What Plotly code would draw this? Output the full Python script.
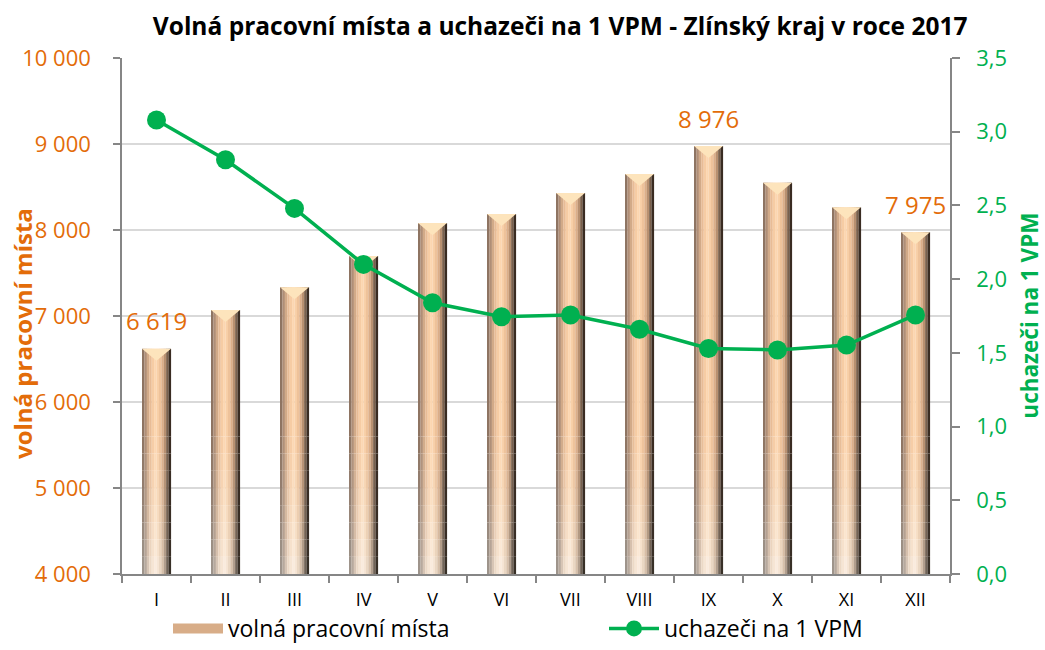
import plotly.graph_objects as go

# ---- data ----
months = ["I", "II", "III", "IV", "V", "VI", "VII", "VIII", "IX", "X", "XI", "XII"]
vacancies = [6619, 7070, 7335, 7698, 8080, 8186, 8430, 8651, 8976, 8550, 8264, 7975]
applicants_per_vpm = [3.08, 2.81, 2.48, 2.10, 1.84, 1.745, 1.757, 1.66, 1.53, 1.52, 1.553, 1.757]
labelled_idx = [0, 8, 11]

left_ticks = [4000, 5000, 6000, 7000, 8000, 9000, 10000]
right_ticks = [0, 0.5, 1.0, 1.5, 2.0, 2.5, 3.0, 3.5]

ORANGE = "#E36C09"
GREEN = "#00B050"
FONT = "Open Sans"

# bar gradient colours (left -> right), top and bottom
top_cols = ["#8e7462", "#b08e76", "#d2aa88", "#e8bc96", "#f6cca4", "#fcd6b0",
            "#f8d0a8", "#eec29a", "#dcae88", "#b89070", "#7a604c", "#3a2c22"]
bot_cols = ["#a09890", "#b8aca2", "#d8c8ba", "#ecdccc", "#f6e8da", "#faeee2",
            "#f6e8da", "#eadac8", "#d6c2ae", "#b0a090", "#706458", "#383028"]


def hex2rgb(h):
    h = h.lstrip("#")
    return [int(h[i:i + 2], 16) for i in (0, 2, 4)]


def mix(c1, c2, t):
    a, b = hex2rgb(c1), hex2rgb(c2)
    return "rgb(%d,%d,%d)" % tuple(round(a[k] + (b[k] - a[k]) * t) for k in range(3))


x = list(range(len(months)))
BW = 0.42
n_strips = len(top_cols)
sw = BW / n_strips
base0 = left_ticks[0]
band_h = 200
n_bands = 8

fig = go.Figure()

# bars built from vertical strips and horizontal bands (gradient look)
for j in range(n_strips):
    off = -BW / 2 + j * sw
    for k in range(n_bands + 1):
        lo = base0 + k * band_h
        if k < n_bands:
            hi = lo + band_h
            heights = [max(0, min(v, hi) - lo) for v in vacancies]
            t = ((k + 0.5) / n_bands) ** 0.8
            col = mix(bot_cols[j], top_cols[j], t)
        else:
            heights = [max(0, v - lo) for v in vacancies]
            col = top_cols[j]
        fig.add_trace(go.Bar(
            x=x, y=heights, base=[lo] * len(x), width=[sw * 1.04] * len(x),
            offset=[off] * len(x), marker=dict(color=col, line=dict(width=0)),
            showlegend=False, hoverinfo="skip", yaxis="y"))

# bevel triangles at bar tops
depth = 140
tx, ty = [], []
for i, v in zip(x, vacancies):
    tx += [i - BW / 2, i + BW / 2, i, i - BW / 2, None]
    ty += [v, v, v - depth, v, None]
fig.add_trace(go.Scatter(x=tx, y=ty, mode="lines", fill="toself",
                         fillcolor="#fde4bc", line=dict(width=0, color="#fde4bc"),
                         showlegend=False, hoverinfo="skip", yaxis="y"))

# legend-only bar entry (drawn as a wide block)
fig.add_trace(go.Scatter(x=[None], y=[None], name="volná pracovní místa",
                         mode="lines", line=dict(color="#d8ad88", width=18),
                         yaxis="y", legend="legend"))

# line
fig.add_trace(go.Scatter(x=x, y=applicants_per_vpm, name="uchazeči na 1 VPM",
                         mode="lines+markers", yaxis="y2", legend="legend2",
                         line=dict(color=GREEN, width=3.5),
                         marker=dict(color=GREEN, size=19)))

for i in labelled_idx:
    fig.add_annotation(x=x[i], y=vacancies[i], xref="x", yref="y",
                       text=f"{vacancies[i]:,}".replace(",", " "),
                       showarrow=False, yshift=28,
                       font=dict(color=ORANGE, size=24, family=FONT))

# axis titles
fig.add_annotation(x=-0.1208, y=0.467, xref="paper", yref="paper",
                   text="<b>volná pracovní místa</b>", textangle=-90, showarrow=False,
                   xanchor="center", yanchor="middle",
                   font=dict(size=24, family=FONT, color=ORANGE))
fig.add_annotation(x=1.095, y=0.5, xref="paper", yref="paper",
                   text="<b>uchazeči na 1 VPM</b>", textangle=-90, showarrow=False,
                   xanchor="center", yanchor="middle",
                   font=dict(size=22.5, family=FONT, color=GREEN))

leg_common = dict(orientation="h", yref="container", y=-0.014, yanchor="bottom",
                  xref="container", xanchor="left",
                  font=dict(size=23, family=FONT, color="black"),
                  itemwidth=50, bgcolor="rgba(0,0,0,0)")

fig.update_layout(
    width=1045, height=650,
    margin=dict(l=122, r=95, t=58, b=76),
    paper_bgcolor="white", plot_bgcolor="white",
    separators=", ",
    barmode="overlay",
    font=dict(family=FONT, color="black"),
    title=dict(text="<b>Volná pracovní místa a uchazeči na 1 VPM - Zlínský kraj v roce 2017</b>",
               x=0.536, xanchor="center", y=0.96, yanchor="middle",
               font=dict(size=24.5, family=FONT, color="black")),
    xaxis=dict(range=[-0.5, 11.5], tickvals=x, ticktext=months, ticks="",
               showline=True, linecolor="#868686", linewidth=1.5,
               showgrid=False, zeroline=False, automargin=False,
               tickfont=dict(size=18, family=FONT, color="black"),
               ticklabelstandoff=9,
               minor=dict(tickvals=[i - 0.5 for i in x] + [11.5], ticks="outside",
                          ticklen=7, tickcolor="#868686", tickwidth=1.5, showgrid=False)),
    yaxis=dict(range=[4000, 10000], tickvals=left_ticks, tickformat=",d",
               ticks="outside", ticklen=7, tickcolor="#868686", tickwidth=1.5,
               showline=True, linecolor="#868686", linewidth=1.5,
               showgrid=True, gridcolor="#d9d9d9", gridwidth=1.5, zeroline=False,
               automargin=False,
               tickfont=dict(size=22, family=FONT, color=ORANGE),
               ticklabelstandoff=18),
    yaxis2=dict(range=[0, 3.5], tickvals=right_ticks, tickformat=".1f",
                overlaying="y", side="right",
                ticks="outside", ticklen=8, tickcolor="#868686", tickwidth=1.5,
                showline=True, linecolor="#868686", linewidth=1.5,
                showgrid=False, zeroline=False, automargin=False,
                tickfont=dict(size=22, family=FONT, color=GREEN),
                ticklabelstandoff=12),
    legend=dict(x=168 / 1045, **leg_common),
    legend2=dict(x=604 / 1045, **leg_common),
)

fig.write_html("out.html", post_script="document.body.style.margin='0';",
               config={"displayModeBar": False})
